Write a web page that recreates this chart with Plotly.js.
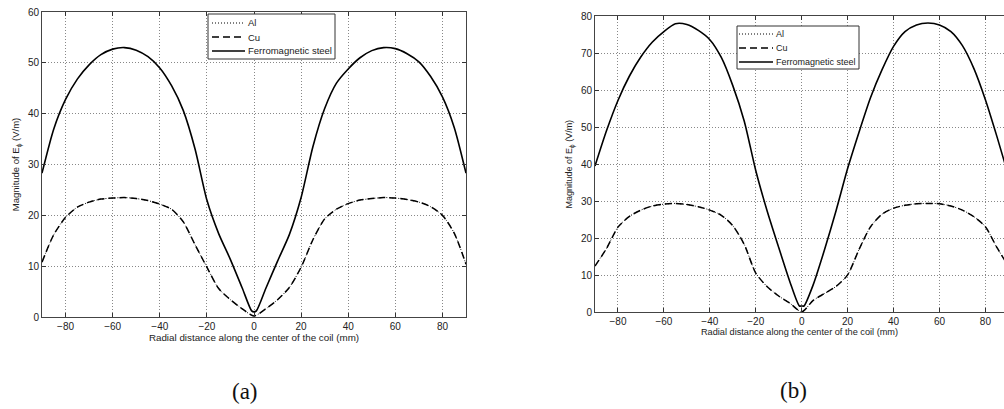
<!DOCTYPE html>
<html>
<head>
<meta charset="utf-8">
<script src="https://cdn.plot.ly/plotly-3.0.1.min.js"></script>
<style>html,body{margin:0;padding:0;background:#fff;}#chart{width:1004px;height:409px;}</style>
</head>
<body>
<div id="chart"></div>
<script>
// ---- data: panel (a) ----
const xCuA = [-90,-85,-80,-75,-70,-65,-60,-55,-50,-45,-40,-35,-30,-25,-20,-15,-10,-5,0,5,10,15,20,25,30,35,40,45,50,55,60,65,70,75,80,85,90];
const cuA  = [10.8,16.2,19.6,21.6,22.6,23.2,23.4,23.5,23.3,22.9,22.2,21.2,18.7,14.2,9.8,5.6,3.4,1.6,0.2,1.6,3.4,5.8,9.8,15.2,19.3,21.2,22.3,23.0,23.3,23.5,23.4,23.1,22.6,21.7,20.0,16.5,10.4];
const alA  = cuA.slice(); // Al coincides with Cu in the figure
const xStA = [-90,-85,-80,-75,-70,-65,-60,-55,-50,-45,-40,-35,-30,-25,-20,-15,-10,-5,-1,0,1,5,10,15,20,25,30,35,40,45,50,55,60,65,70,75,80,85,90];
const stA  = [28.3,37.0,42.8,46.8,49.6,51.6,52.7,53.0,52.5,51.2,49.0,45.5,40.6,33.0,23.0,16.4,11.3,5.7,1.2,1.0,1.2,5.6,11.0,16.2,23.5,33.5,41.0,46.0,48.8,51.0,52.4,53.0,52.8,51.8,50.2,47.3,43.3,37.3,28.3];

// ---- data: panel (b) ----
const xCuB = [-90,-85,-80,-75,-70,-65,-60,-55,-50,-45,-40,-35,-30,-25,-20,-15,-10,-5,0,5,10,15,20,25,30,35,40,45,50,55,60,65,70,75,80,85,90];
const cuB  = [12.5,17.2,23.0,25.9,27.6,28.7,29.2,29.4,29.1,28.5,27.6,26.2,23.4,18.3,10.6,6.9,4.4,2.4,0.1,3.2,5.1,7.0,10.1,17.0,23.1,26.5,28.1,28.9,29.3,29.4,29.3,28.7,27.6,25.8,23.1,17.5,12.5];
const alB  = cuB.slice(); // Al coincides with Cu in the figure
const xStB = [-90,-85,-80,-75,-70,-65,-60,-55,-50,-45,-40,-35,-30,-25,-20,-15,-10,-5,-1,0,1,5,10,15,20,25,30,35,40,45,50,55,60,65,70,75,80,85,90];
const stB  = [39.5,49.0,57.2,63.8,69.0,73.0,75.8,77.9,77.7,76.1,73.6,68.8,61.2,51.6,38.3,27.3,17.5,8.0,1.7,1.7,1.7,7.4,17.0,27.5,38.8,48.7,58.0,65.5,71.8,75.8,77.6,78.1,77.6,75.8,72.0,65.8,57.4,47.5,37.0];

const xTicks = [-80,-60,-40,-20,0,20,40,60,80];
const yTicksA = [0,10,20,30,40,50,60];
const yTicksB = [0,10,20,30,40,50,60,70,80];
const seriesNames = ['Al','Cu','Ferromagnetic steel'];
const xTitle = 'Radial distance along the center of the coil (mm)';
const yTitle = 'Magnitude of E<sub>\u03d5</sub> (V/m)';
const panelLabels = ['(a)','(b)'];

const FONT = 'Liberation Sans, Arial, Helvetica, sans-serif';
const W = 1004, H = 409;
const px = v => v / W;          // pixel -> paper x
const py = v => (H - v) / H;    // pixel -> paper y
const styles = [
  {color:'#000', width:1, dash:'1px,2px'},
  {color:'#000', width:1.5, dash:'7px,4px'},
  {color:'#000', width:1.6, dash:'solid'}
];

function tr(x, y, i, xa, ya) {
  return {x:x, y:y, type:'scatter', mode:'lines', name:seriesNames[i],
    line:Object.assign({shape:'spline', smoothing:0.7}, styles[i]), xaxis:xa, yaxis:ya, showlegend:false, hoverinfo:'skip'};
}

const data = [
  tr(xCuA, alA, 0, 'x', 'y'),
  tr(xCuA, cuA, 1, 'x', 'y'),
  tr(xStA, stA, 2, 'x', 'y'),
  tr(xCuB, alB, 0, 'x2', 'y2'),
  tr(xCuB, cuB, 1, 'x2', 'y2'),
  tr(xStB, stB, 2, 'x2', 'y2')
];

function xax(domain, range, anchor, fs, mirror) {
  return {domain:domain, range:range, anchor:anchor, tickvals:xTicks, ticks:'inside', ticklen:4,
    tickcolor:'#333', showline:true, linecolor:'#444', linewidth:1, mirror:mirror,
    showgrid:true, gridcolor:'#888', griddash:'1px,2px', gridwidth:1, zeroline:false,
    tickfont:{family:FONT, size:10, color:'#222'},
    title:{text:xTitle, font:{family:FONT, size:fs, color:'#222'}, standoff:2}};
}
function yax(domain, range, anchor, ticks, fs, mirror) {
  return {domain:domain, range:range, anchor:anchor, tickvals:ticks, ticks:'inside', ticklen:4,
    tickcolor:'#333', showline:true, linecolor:'#444', linewidth:1, mirror:mirror,
    showgrid:true, gridcolor:'#888', griddash:'1px,2px', gridwidth:1, zeroline:false,
    tickfont:{family:FONT, size:10, color:'#222'},
    title:{text:yTitle, font:{family:FONT, size:fs, color:'#222'}, standoff:6}};
}

// hand-built legend boxes (MATLAB-style compact legend)
const shapes = [], annotations = [];
function legendBox(x0, y0, x1, y1, rowY, lineX0, lineX1, textX, fs) {
  shapes.push({type:'rect', xref:'paper', yref:'paper', x0:px(x0), x1:px(x1), y0:py(y1), y1:py(y0),
    line:{color:'#333', width:1}, fillcolor:'#fff', layer:'above'});
  seriesNames.forEach((nm, i) => {
    const s = styles[i];
    shapes.push({type:'line', xref:'paper', yref:'paper', x0:px(lineX0), x1:px(lineX1), y0:py(rowY[i]), y1:py(rowY[i]),
      line:{color:s.color, width:s.width, dash:s.dash}, layer:'above'});
    annotations.push({text:nm, xref:'paper', yref:'paper', x:px(textX), y:py(rowY[i]), xanchor:'left', yanchor:'middle',
      showarrow:false, font:{family:FONT, size:fs, color:'#222'}});
  });
}
legendBox(208, 14, 335, 59, [23, 37, 51], 212, 245, 246, 9.5);
legendBox(737, 26, 859, 69, [34, 48, 62], 739, 773, 774, 9);

annotations.push({text:panelLabels[0], xref:'paper', yref:'paper', x:px(245), y:py(391), xanchor:'center', yanchor:'middle', showarrow:false,
  font:{family:'Liberation Serif, DejaVu Serif, serif', size:23, color:'#111'}});
annotations.push({text:panelLabels[1], xref:'paper', yref:'paper', x:px(793), y:py(390), xanchor:'center', yanchor:'middle', showarrow:false,
  font:{family:'Liberation Serif, DejaVu Serif, serif', size:23, color:'#111'}});

const layout = {
  width:W, height:H, margin:{l:0, r:0, t:0, b:0},
  paper_bgcolor:'#fff', plot_bgcolor:'#fff', showlegend:false,
  xaxis: xax([px(42), px(466)], [-90, 90], 'y', 9.8, 'ticks'),
  yaxis: yax([py(317), py(12)], [0, 60], 'x', yTicksA, 9.5, 'ticks'),
  xaxis2: xax([px(595), 1], [-90, 88.1], 'y2', 9.2, 'ticks'),
  yaxis2: yax([py(312.3), py(16)], [0, 80], 'x2', yTicksB, 9, false),
  shapes: shapes,
  annotations: annotations
};

Plotly.newPlot('chart', data, layout, {staticPlot:true, displayModeBar:false});
</script>
</body>
</html>
